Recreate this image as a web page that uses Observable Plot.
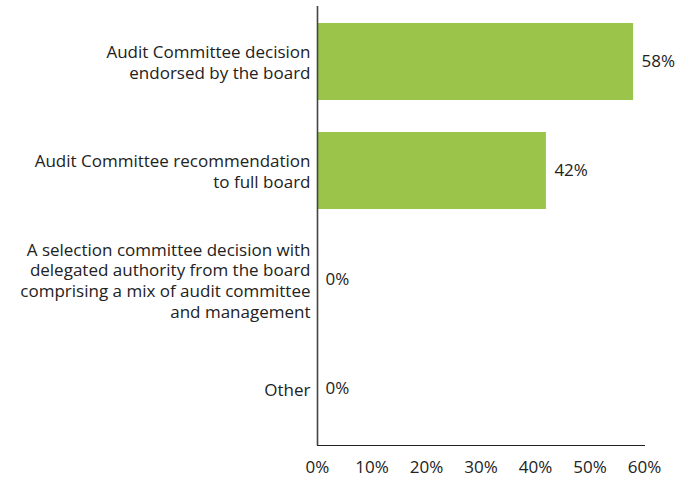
<!DOCTYPE html>
<html><head><meta charset="utf-8">
<script src="https://cdn.jsdelivr.net/npm/d3@7"></script>
<script src="https://cdn.jsdelivr.net/npm/@observablehq/plot@0.6"></script>
<style>body{margin:0;background:#fff;font-family:"Open Sans",sans-serif;}</style>
</head><body><div id="chart"></div>
<script>
const categories = [
  "Audit Committee decision\nendorsed by the board",
  "Audit Committee recommendation\nto full board",
  "A selection committee decision with\ndelegated authority from the board\ncomprising a mix of audit committee\nand management",
  "Other"
];
const values = [58, 42, 0, 0];
const xTicks = [0, 10, 20, 30, 40, 50, 60];
const rows = categories.map((c, i) => ({cat: c, value: values[i]}));

const chart = Plot.plot({
  width: 693, height: 477,
  marginLeft: 317, marginRight: 49, marginTop: 6, marginBottom: 32,
  style: {fontFamily: "Open Sans, sans-serif", fontSize: "17px", color: "#222", background: "#fff"},
  x: {domain: [0, 60], ticks: xTicks, tickFormat: d => d + "%", tickSize: 0, tickPadding: 15, label: null, line: true, fontSize: 17},
  y: {domain: categories, axis: null, paddingInner: 0.29, paddingOuter: 0.145},
  marks: [
    Plot.barX(rows, {y: "cat", x: "value", fill: "#9bc44b"}),
    Plot.ruleX([0], {stroke: "#444", strokeWidth: 1.6}),
    Plot.text(rows, {y: "cat", text: "cat", frameAnchor: "left", textAnchor: "end", dx: -7, lineHeight: 1.22, fontSize: 17, fill: "#222"}),
    Plot.text(rows, {y: "cat", x: "value", text: d => d.value + "%", textAnchor: "start", dx: 8, fontSize: 17, fill: "#222"})
  ]
});
document.getElementById("chart").appendChild(chart);
</script></body></html>
